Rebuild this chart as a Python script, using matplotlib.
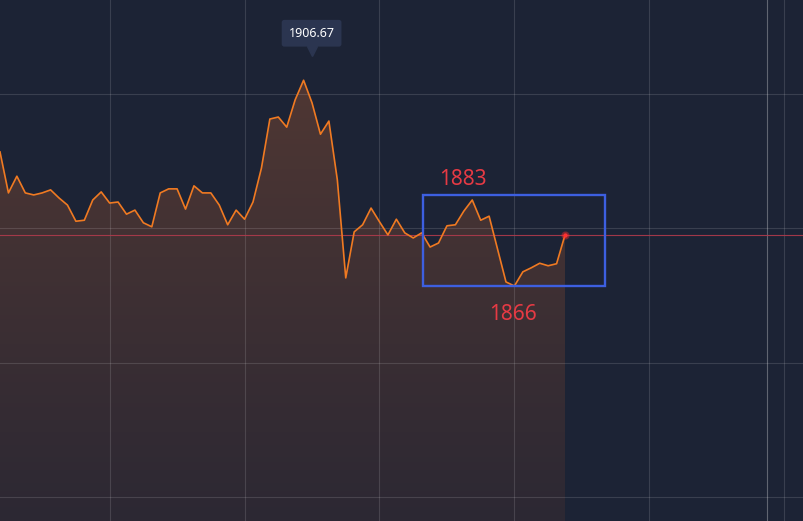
import numpy as np
import matplotlib
matplotlib.use("Agg")
import matplotlib.pyplot as plt
import matplotlib.transforms as mtransforms
from matplotlib.patches import Polygon, Rectangle
from matplotlib.colors import LinearSegmentedColormap

# price series (one point per bar)
prices = [
    1892.5, 1884.4, 1887.7, 1884.4, 1884.0, 1884.4, 1885.0, 1883.4, 1882.0, 1878.8,
    1879.0, 1883.0, 1884.6, 1882.4, 1882.6, 1880.2, 1881.0, 1878.5, 1877.7, 1884.4,
    1885.2, 1885.2, 1881.2, 1885.8, 1884.4, 1884.4, 1882.0, 1878.1, 1881.0, 1879.2,
    1882.6, 1889.3, 1899.0, 1899.4, 1897.4, 1902.8, 1906.67, 1902.2, 1896.0, 1898.6,
    1887.0, 1867.6, 1876.7, 1878.1, 1881.4, 1878.7, 1876.1, 1879.2, 1876.5, 1875.5,
    1876.5, 1873.7, 1874.5, 1877.9, 1878.1, 1880.8, 1883.0, 1879.0, 1879.8, 1873.3,
    1866.8, 1866.0, 1868.8, 1869.6, 1870.5, 1870.0, 1870.4, 1876.1,
]
peak_text = "1906.67"
box_x = (50.2, 71.7)
box_y = (1866.0, 1884.0)
label_high = "1883"
label_low = "1866"
grid_x = [13, 29, 45, 61, 77, 93]
grid_y = [1903.95, 1877.47, 1850.78, 1824.29]
cursor_x = 91
y_lo, y_hi = 1819.55, 1922.53
x_hi = 95.34

BG = "#1c2335"
ORANGE = "#f07a22"
RED = "#e63a44"
BLUE = "#3d5fe0"

idx = np.arange(len(prices))
last = prices[-1]
peak_i = int(np.argmax(prices))

fig = plt.figure(figsize=(8.04, 5.21), dpi=100)
fig.patch.set_facecolor(BG)
ax = fig.add_axes([0, 0, 1, 1])
ax.set_facecolor(BG)
ax.set_xlim(0, x_hi)
ax.set_ylim(y_lo, y_hi)
ax.axis("off")

# gradient fill under the line
verts = [(0, y_lo)] + list(zip(idx, prices)) + [(idx[-1], y_lo)]
poly = Polygon(verts, closed=True, facecolor="none", edgecolor="none")
ax.add_patch(poly)
cmap = LinearSegmentedColormap.from_list("fillgrad", ["#2c2834", "#4f3733"])
grad = np.linspace(1, 0, 256).reshape(-1, 1)
im = ax.imshow(grad, cmap=cmap, aspect="auto", origin="upper",
               extent=[0, idx[-1], y_lo, max(prices)], zorder=1)
im.set_clip_path(poly)

# grid
for gx in grid_x:
    ax.axvline(gx, color="white", alpha=0.13, lw=0.8, zorder=2)
for gy in grid_y:
    ax.axhline(gy, color="white", alpha=0.13, lw=0.8, zorder=2)
ax.axvline(cursor_x, color="white", alpha=0.3, lw=0.8, zorder=2)

# last price line
ax.axhline(last, color="#b03a4c", lw=0.8, alpha=0.9, zorder=2)

# price line
ax.plot(idx, prices, color=ORANGE, lw=1.2, zorder=4)
ax.plot(idx[-1], last, "o", color="#ff3030", ms=5, alpha=0.3, zorder=5)
ax.plot(idx[-1], last, "o", color="#ff3030", ms=2.2, zorder=5)

# highlight box and labels
ax.add_patch(Rectangle((box_x[0], box_y[0]), box_x[1] - box_x[0], box_y[1] - box_y[0],
                       fill=False, edgecolor=BLUE, lw=1.7, zorder=6))
ax.text(54.96, 1885.97, label_high, color=RED, fontsize=15, family="Noto Sans",
        ha="center", va="baseline", zorder=7)
ax.text(60.83, 1859.28, label_low, color=RED, fontsize=15, family="Noto Sans",
        ha="center", va="baseline", zorder=7)

# peak tooltip
ax.annotate(peak_text, xy=(peak_i, prices[peak_i]), xytext=(8, 47),
            textcoords="offset pixels", ha="center", va="center",
            color="white", fontsize=9, family="Noto Sans", zorder=8,
            bbox=dict(boxstyle="round,pad=0.55,rounding_size=0.2",
                      fc="#2b3550", ec="none"))
tri = mtransforms.offset_copy(ax.transData, fig=fig, x=8, y=29, units="dots")
ax.plot(peak_i, prices[peak_i], marker="v", color="#2b3550", ms=7,
        transform=tri, zorder=8)

fig.savefig("out.png", dpi=100, facecolor=fig.get_facecolor())
plt.close(fig)
